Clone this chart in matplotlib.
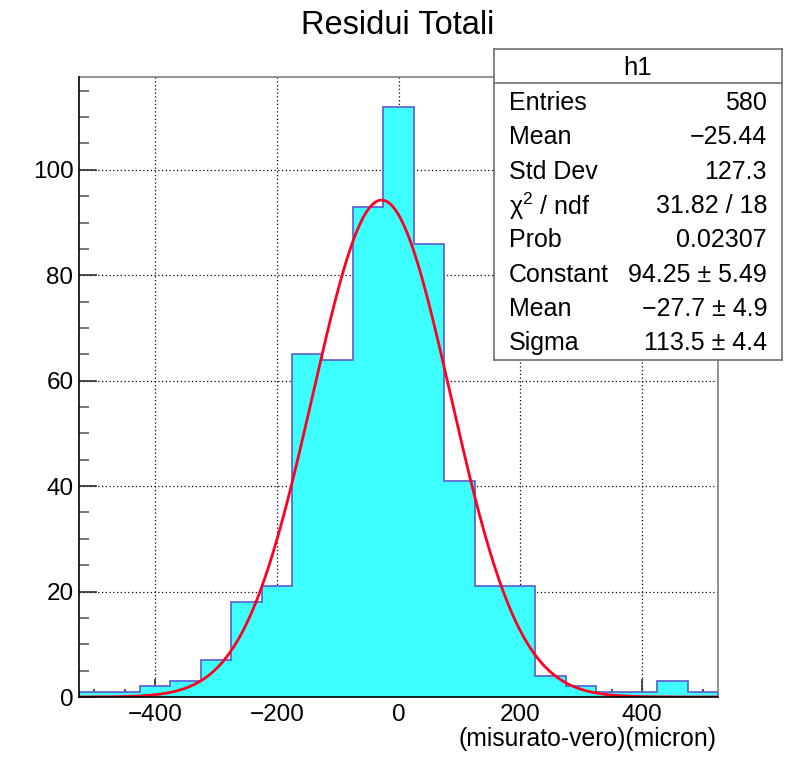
import numpy as np
import matplotlib.pyplot as plt
from matplotlib.ticker import MultipleLocator

plt.rcParams["font.family"] = ["Liberation Sans", "DejaVu Sans"]
plt.rcParams["mathtext.fontset"] = "custom"
plt.rcParams["mathtext.rm"] = "Liberation Sans"
plt.rcParams["mathtext.it"] = "Liberation Sans"
plt.rcParams["mathtext.default"] = "regular"

# histogram h1: 21 bins of 50 micron from -525 to 525
edges = np.arange(-525, 526, 50)
counts = [1, 1, 2, 3, 7, 18, 21, 65, 64, 93, 112, 86, 41, 21, 21, 4, 2, 1, 1, 3, 1]

# gaussian fit parameters
g_const = 94.25
g_mean = -27.7
g_sigma = 113.5

stat_names = ["Entries", "Mean", "Std Dev", "\u03c7$^{2}$ / ndf", "Prob", "Constant", "Mean", "Sigma"]
stat_vals = ["580", "\u221225.44", "127.3", "31.82 / 18", "0.02307",
             "94.25 \u00b1 5.49", "\u221227.7 \u00b1 4.9", "113.5 \u00b1 4.4"]

W, H = 798, 775
fig = plt.figure(figsize=(W / 100, H / 100), dpi=100)
ax = fig.add_axes([79 / W, 1 - 697 / H, (718 - 79) / W, (697 - 77) / H])

ax.stairs(counts, edges, fill=True, color="#3dffff", zorder=2)
ax.stairs(counts, edges, color="#5a5ad0", lw=1.2, zorder=3)

xf = np.linspace(edges[0], edges[-1], 400)
ax.plot(xf, g_const * np.exp(-0.5 * ((xf - g_mean) / g_sigma) ** 2), color="#ff0020", lw=2, zorder=4)

ax.set_xlim(edges[0], edges[-1])
ax.set_ylim(0, max(counts) * 1.05)
ax.set_axisbelow(True)
ax.grid(True, color="black", linestyle=(0, (1, 2)), lw=0.9)

ax.xaxis.set_major_locator(MultipleLocator(200))
ax.xaxis.set_minor_locator(MultipleLocator(50))
ax.yaxis.set_major_locator(MultipleLocator(20))
ax.yaxis.set_minor_locator(MultipleLocator(5))
ax.set_xticks([-400, -200, 0, 200, 400])
ax.set_xticklabels(["\u2212400", "\u2212200", "0", "200", "400"])
ax.tick_params(axis="x", which="major", direction="in", length=13, width=1.2, color="#303030", labelsize=17.5, pad=5)
ax.tick_params(axis="x", which="minor", direction="in", length=6, width=1.2, color="#303030")
ax.tick_params(axis="y", which="major", direction="in", length=13, width=1.2, color="#303030", labelsize=17.5, pad=4)
ax.tick_params(axis="y", which="minor", direction="in", length=7, width=1.2, color="#606060")
for s in ["top", "right"]:
    ax.spines[s].set_color("#808080")
    ax.spines[s].set_linewidth(1.2)
for s in ["left", "bottom"]:
    ax.spines[s].set_color("black")
    ax.spines[s].set_linewidth(1.2)
    ax.spines[s].set_zorder(5)

fig.text(398 / W, 1 - 26 / H, "Residui Totali", ha="center", va="center", fontsize=23.5)
fig.text(716 / W, 1 - 739 / H, "(misurato-vero)(micron)", ha="right", va="center", fontsize=17.8)

# stats box
bx0, bx1, by0, by1 = 494, 782, 49, 360
box = fig.add_axes([bx0 / W, 1 - by1 / H, (bx1 - bx0) / W, (by1 - by0) / H])
box.set_xlim(bx0, bx1)
box.set_ylim(by1, by0)
box.set_xticks([])
box.set_yticks([])
for s in box.spines.values():
    s.set_color("#707070")
    s.set_linewidth(1.2)
box.axhline(83, color="#707070", lw=1.2)
box.text((bx0 + bx1) / 2, 68, "h1", ha="center", va="center", fontsize=18.5)
for i, (n, v) in enumerate(zip(stat_names, stat_vals)):
    y = 103 + i * 34.3
    box.text(509, y, n, ha="left", va="center", fontsize=18)
    box.text(767, y, v, ha="right", va="center", fontsize=18)

fig.savefig("out.png", dpi=100)
